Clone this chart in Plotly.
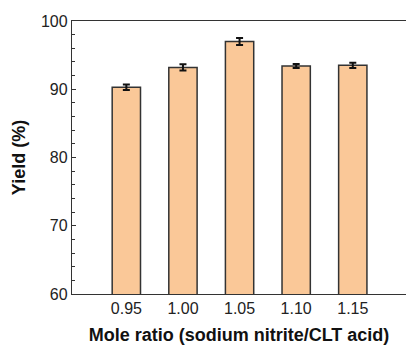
import plotly.graph_objects as go

ratios = [0.95, 1.00, 1.05, 1.10, 1.15]
tick_labels = ["0.95", "1.00", "1.05", "1.10", "1.15"]
yields = [90.3, 93.2, 97.0, 93.4, 93.5]
errors = [0.4, 0.45, 0.5, 0.3, 0.4]
y_ticks = [60, 70, 80, 90, 100]

fig = go.Figure()
fig.add_trace(go.Bar(
    x=ratios, y=yields, width=0.025,
    marker=dict(color="#FAC898", line=dict(color="#333333", width=1.5)),
    error_y=dict(type="data", array=errors, visible=True, color="#111111",
                 thickness=2, width=3.5),
))

font = "Liberation Sans, Arial, sans-serif"
fig.update_layout(
    width=406, height=345,
    margin=dict(l=72, r=0, t=21, b=51),
    plot_bgcolor="white", paper_bgcolor="white",
    showlegend=False,
    font=dict(family=font, size=16, color="#222222"),
    xaxis=dict(
        range=[0.902, 1.197],
        tickvals=ratios, ticktext=tick_labels,
        showline=True, linecolor="#333333", linewidth=1.3, mirror=True,
        ticks="", showgrid=False, zeroline=False,
        tickfont=dict(size=16, color="#222222"),
        title=dict(text="<b>Mole ratio (sodium nitrite/CLT acid)</b>",
                   font=dict(size=18, color="#111111"), standoff=12),
    ),
    yaxis=dict(
        range=[60, 100],
        tickvals=y_ticks,
        showline=True, linecolor="#333333", linewidth=1.3, mirror=True,
        ticks="inside", ticklen=4, tickwidth=1.2, tickcolor="#333333",
        minor=dict(ticks="inside", ticklen=3, tickwidth=1, tickcolor="#333333", dtick=2, showgrid=False),
        showgrid=False, zeroline=False,
        tickfont=dict(size=16, color="#222222"),
        title=dict(text="<b>Yield (%)</b>", font=dict(size=18, color="#111111"), standoff=10),
    ),
)

fig.write_html("out.html")
